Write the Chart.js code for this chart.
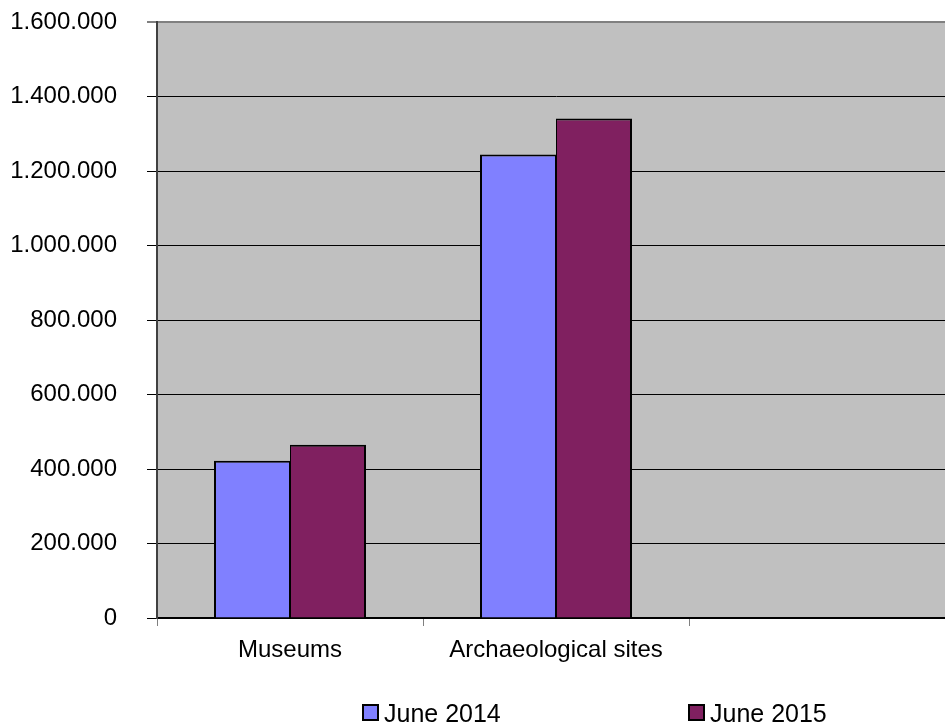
<!DOCTYPE html>
<html><head><meta charset="utf-8">
<script src="https://cdn.jsdelivr.net/npm/chart.js@4"></script>
<style>
html,body{margin:0;padding:0;background:#fff;overflow:hidden;width:945px;height:724px;position:relative;}
#wrap{position:absolute;left:0;top:0;width:955px;height:724px;}
.lg{position:absolute;font-family:'Liberation Sans',Arial,sans-serif;font-size:25px;line-height:25px;color:#000;white-space:nowrap;}
.bx{position:absolute;width:13px;height:13px;border:2px solid #000;}
</style></head><body>
<div id="wrap"><canvas id="c" width="955" height="724"></canvas></div>
<div id="legend"></div>
<script>
const categories = ['Museums', 'Archaeological sites', ''];
const seriesNames = ['June 2014', 'June 2015'];
const june2014 = [422000, 1244000, null];
const june2015 = [465000, 1341000, null];
const seriesColors = ['#8080FF', '#802060'];
const yMin = 0, yMax = 1600000, yStep = 200000;

const FONT = "'Liberation Sans', Arial, sans-serif";
function fmt(v){ return String(v).replace(/\B(?=(\d{3})+(?!\d))/g, '.'); }

const plotBg = {
  id: 'plotBg',
  beforeDraw(chart){
    const {ctx, chartArea:{left, top, right, bottom}} = chart;
    ctx.save();
    ctx.fillStyle = '#C0C0C0';
    ctx.fillRect(left, top, right - left, bottom - top);
    ctx.restore();
  }
};

new Chart(document.getElementById('c'), {
  type: 'bar',
  data: {
    labels: categories,
    datasets: [
      { label: seriesNames[0], data: june2014, backgroundColor: seriesColors[0], borderColor: '#000',
        borderWidth: {left: 2, top: 2, right: 1, bottom: 0}, borderSkipped: false },
      { label: seriesNames[1], data: june2015, backgroundColor: seriesColors[1], borderColor: '#000',
        borderWidth: {left: 1, top: 2, right: 2, bottom: 0}, borderSkipped: false }
    ]
  },
  options: {
    responsive: false,
    animation: false,
    devicePixelRatio: 1,
    layout: { padding: { top: 22, left: 0, right: 0, bottom: 0 } },
    datasets: { bar: { categoryPercentage: 0.5714, barPercentage: 1.0 } },
    plugins: { legend: { display: false }, tooltip: { enabled: false } },
    scales: {
      x: {
        offset: true,
        afterFit(scale){ scale.height = 106; },
        grid: { offset: true, drawOnChartArea: false, tickLength: 8, color: '#808080', lineWidth: 1 },
        border: { display: true, color: '#000', width: 2 },
        ticks: { color: '#000', font: { family: FONT, size: 24 }, padding: 10, maxRotation: 0, autoSkip: false }
      },
      y: {
        min: yMin, max: yMax,
        afterFit(scale){ scale.width = 157; scale.paddingTop = 0; scale.paddingBottom = 0; },
        grid: {
          tickLength: 10,
          color: c => (c.tick && c.tick.value === yMax) ? '#808080' : '#000',
          lineWidth: c => (c.tick && c.tick.value === yMax) ? 2 : 1
        },
        border: { display: true, color: '#404040', width: 2 },
        ticks: { stepSize: yStep, color: '#000', font: { family: FONT, size: 24 }, padding: 30, callback: v => fmt(v) }
      }
    }
  },
  plugins: [plotBg]
});

// legend
const lgPos = [362, 688];
const legend = document.getElementById('legend');
seriesNames.forEach((name, i) => {
  const b = document.createElement('div');
  b.className = 'bx';
  b.style.left = lgPos[i] + 'px';
  b.style.top = '704px';
  b.style.background = seriesColors[i];
  legend.appendChild(b);
  const t = document.createElement('div');
  t.className = 'lg';
  t.style.left = (lgPos[i] + 22) + 'px';
  t.style.top = '701px';
  t.textContent = name;
  legend.appendChild(t);
});
</script>
</body></html>
